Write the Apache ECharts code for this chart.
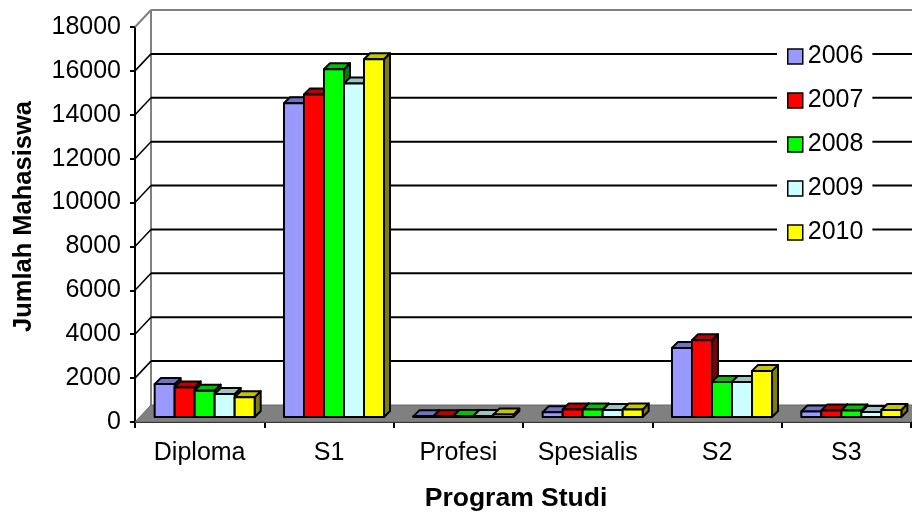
<!DOCTYPE html>
<html>
<head>
<meta charset="utf-8">
<script src="https://cdn.jsdelivr.net/npm/echarts@6/dist/echarts.min.js"></script>
<style>
  html, body { margin: 0; padding: 0; background: #fff; }
  #chart { width: 912px; height: 513px; }
</style>
</head>
<body>
<div id="chart"></div>
<script>
// Student counts per study programme, 2006–2010
const categories = ['Diploma', 'S1', 'Profesi', 'Spesialis', 'S2', 'S3'];
const years = ['2006', '2007', '2008', '2009', '2010'];
const v2006 = [1500, 14300, 30, 220, 3150, 250];
const v2007 = [1350, 14700, 35, 340, 3500, 300];
const v2008 = [1200, 15850, 45, 340, 1600, 300];
const v2009 = [1050, 15200, 40, 320, 1600, 230];
const v2010 = [900, 16300, 110, 340, 2100, 320];
const yTicks = [0, 2000, 4000, 6000, 8000, 10000, 12000, 14000, 16000, 18000];

const seriesValues = [v2006, v2007, v2008, v2009, v2010];
// front, top and side face colours of each year's bars
const faceColors = [
  ['#9999FF', '#7272C4', '#4C4C80'],
  ['#FF0000', '#C00000', '#800000'],
  ['#00FF00', '#00C000', '#008000'],
  ['#CCFFFF', '#9CC4C4', '#668080'],
  ['#FFFF00', '#C4C400', '#808000']
];

const FONT = '"Liberation Sans", Arial, sans-serif';
// oblique projection used for the box: back wall offset and bar depth
const WALL_DX = 16, WALL_DY = -17;
const BAR_DX = 5, BAR_DY = -5;
const BAR_DEPTH_X = 6, BAR_DEPTH_Y = -6;
const GROUP_RATIO = 100 / 129.3;

function frameItem(params, api) {
  const v = api.value(1);
  const p = api.coord([0, v]);
  const bw = api.size([1, 0])[0];
  const L = p[0] - bw / 2;
  const R = L + bw * categories.length;
  const y = p[1];
  const isTop = v === yTicks[yTicks.length - 1];
  const children = [];
  if (v === 0) {
    const y0 = y;
    const yTop = api.coord([0, yTicks[yTicks.length - 1]])[1];
    // floor
    children.push({
      type: 'polygon',
      shape: { points: [[L, y0], [R, y0], [R + WALL_DX, y0 + WALL_DY], [L + WALL_DX, y0 + WALL_DY]] },
      style: { fill: '#808080', stroke: '#6a6a6a', lineWidth: 1 }
    });
    // back wall left edge
    children.push({
      type: 'line',
      shape: { x1: L + WALL_DX, y1: y0 + WALL_DY, x2: L + WALL_DX, y2: yTop + WALL_DY },
      style: { stroke: '#808080', lineWidth: 2 }
    });
    return { type: 'group', children: children };
  }
  // side-wall diagonal
  children.push({
    type: 'line',
    shape: { x1: L, y1: y, x2: L + WALL_DX, y2: y + WALL_DY },
    style: { stroke: isTop ? '#808080' : '#000', lineWidth: isTop ? 2 : 1.5 }
  });
  // back-wall gridline
  children.push({
    type: 'line',
    shape: { x1: L + WALL_DX, y1: y + WALL_DY, x2: R + WALL_DX, y2: y + WALL_DY },
    style: { stroke: isTop ? '#808080' : '#000', lineWidth: 2 }
  });
  return { type: 'group', children: children };
}

function makeBarItem(si) {
  return function (params, api) {
    const ci = api.value(0);
    const v = api.value(1);
    const top = api.coord([ci, v]);
    const base = api.coord([ci, 0]);
    const bw = api.size([1, 0])[0];
    const groupW = bw * GROUP_RATIO;
    const w = groupW / years.length;
    const x0 = top[0] - groupW / 2 + si * w + BAR_DX;
    const x1 = x0 + w;
    const yT = top[1] + BAR_DY;
    const yB = base[1] + BAR_DY;
    const c = faceColors[si];
    const st = { stroke: '#000', lineWidth: 2, lineJoin: 'round' };
    return {
      type: 'group',
      children: [
        {
          type: 'polygon',
          shape: { points: [[x1, yT], [x1 + BAR_DEPTH_X, yT + BAR_DEPTH_Y], [x1 + BAR_DEPTH_X, yB + BAR_DEPTH_Y], [x1, yB]] },
          style: Object.assign({ fill: c[2] }, st)
        },
        {
          type: 'polygon',
          shape: { points: [[x0, yT], [x1, yT], [x1 + BAR_DEPTH_X, yT + BAR_DEPTH_Y], [x0 + BAR_DEPTH_X, yT + BAR_DEPTH_Y]] },
          style: Object.assign({ fill: c[1] }, st)
        },
        {
          type: 'rect',
          shape: { x: x0, y: yT, width: w, height: yB - yT },
          style: Object.assign({ fill: c[0] }, st)
        }
      ]
    };
  };
}

const chart = echarts.init(document.getElementById('chart'), null, { renderer: 'canvas' });

const series = [{
  name: 'frame',
  type: 'custom',
  renderItem: frameItem,
  data: yTicks.map(v => [0, v]),
  z: 1,
  silent: true,
  legendHoverLink: false
}];
years.forEach((yr, si) => {
  series.push({
    name: yr,
    type: 'custom',
    renderItem: makeBarItem(si),
    data: seriesValues[si].map((v, ci) => [ci, v]),
    itemStyle: { color: faceColors[si][0], borderColor: '#000', borderWidth: 1 },
    encode: { x: 0, y: 1 },
    z: 2 + si
  });
});

chart.setOption({
  animation: false,
  backgroundColor: '#fff',
  textStyle: { fontFamily: FONT },
  grid: { left: 135, top: 27, width: 776, height: 395, outerBoundsMode: 'none', containLabel: false },
  legend: {
    data: years,
    orient: 'vertical',
    left: 777,
    top: 44,
    padding: [0, 9, 0, 10],
    backgroundColor: '#fff',
    itemWidth: 15,
    itemHeight: 15,
    itemGap: 19,
    itemTextGap: 7,
    icon: 'rect',
    itemStyle: { borderColor: '#000', borderWidth: 1.5 },
    textStyle: { fontFamily: FONT, fontSize: 25, color: '#000', lineHeight: 25 },
    selectedMode: false
  },
  xAxis: {
    type: 'category',
    data: categories,
    boundaryGap: true,
    axisLine: { show: true, lineStyle: { color: '#000', width: 2 } },
    axisTick: { show: true, length: 6, lineStyle: { color: '#000', width: 2 } },
    axisLabel: { margin: 19, fontSize: 25, color: '#000', fontFamily: FONT, interval: 0 },
    splitLine: { show: false },
    name: 'Program Studi',
    nameLocation: 'middle',
    nameGap: 63,
    nameTextStyle: { fontSize: 26.5, fontWeight: 'bold', color: '#000', fontFamily: FONT, padding: [0, 14, 0, 0] }
  },
  yAxis: {
    type: 'value',
    min: 0,
    max: 18000,
    interval: 2000,
    axisLine: { show: true, lineStyle: { color: '#000', width: 2 } },
    axisTick: { show: true, length: 5, lineStyle: { color: '#000', width: 2 } },
    axisLabel: { margin: 14, fontSize: 25, color: '#000', fontFamily: FONT, formatter: v => String(v) },
    splitLine: { show: false },
    name: 'Jumlah Mahasiswa',
    nameLocation: 'middle',
    nameGap: 98,
    nameTextStyle: { fontSize: 25.5, fontWeight: 'bold', color: '#000', fontFamily: FONT, padding: [0, 0, 0, 16] }
  },
  series: series
});
</script>
</body>
</html>
